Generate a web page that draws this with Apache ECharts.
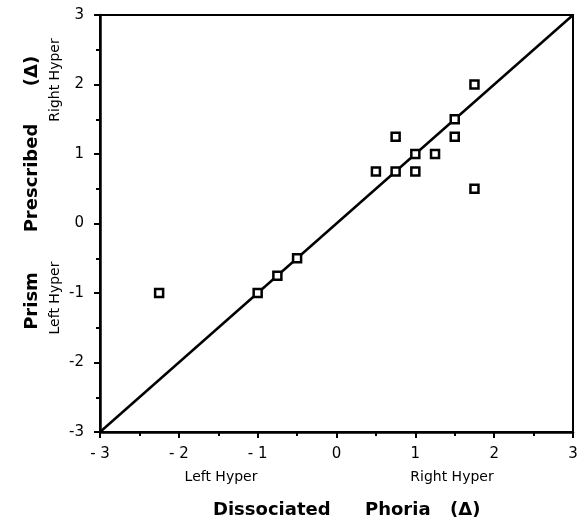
<!DOCTYPE html>
<html><head><meta charset="utf-8">
<script src="https://cdn.jsdelivr.net/npm/echarts@6/dist/echarts.min.js"></script>
<style>html,body{margin:0;padding:0;background:#fff}#c{width:578px;height:526px}</style>
</head><body><div id="c"></div>
<script>
const phoria = [-2.25, -1, -0.75, -0.5, 0.5, 0.75, 0.75, 1, 1, 1.25, 1.5, 1.5, 1.75, 1.75];
const prism  = [-1, -1, -0.75, -0.5, 0.75, 0.75, 1.25, 1, 0.75, 1, 1.5, 1.25, 2, 0.5];
const xTickLabels = {'-3':'- 3','-2':'- 2','-1':'- 1','0':'0','1':'1','2':'2','3':'3'};
const yTickLabels = {'-3':'-3','-2':'-2','-1':'-1','0':'0','1':'1','2':'2','3':'3'};
const identity = [[-3, -3], [3, 3]];

const chart = echarts.init(document.getElementById('c'));
const points = phoria.map((x, i) => [x, prism[i]]);
chart.setOption({
  animation: false,
  grid: {left: 100, right: 5, top: 15, bottom: 94, containLabel: false, outerBoundsMode: 'none',
         show: true, borderColor: '#000', borderWidth: 2},
  xAxis: {
    type: 'value', min: -3, max: 3, interval: 1,
    axisLine: {onZero: false, lineStyle: {color: '#000', width: 2.5}},
    axisTick: {length: 6, lineStyle: {color: '#000', width: 2}},
    minorTick: {show: true, splitNumber: 2, length: 4, lineStyle: {color: '#000', width: 2}},
    splitLine: {show: false},
    axisLabel: {show: true, margin: 15, color: '#000', fontSize: 15, fontFamily: 'DejaVu Sans',
      formatter: v => xTickLabels[String(v)]}
  },
  yAxis: {
    type: 'value', min: -3, max: 3, interval: 1,
    axisLine: {onZero: false, lineStyle: {color: '#000', width: 2.5}},
    axisTick: {length: 6, lineStyle: {color: '#000', width: 2}},
    minorTick: {show: true, splitNumber: 2, length: 4, lineStyle: {color: '#000', width: 2}},
    splitLine: {show: false},
    axisLabel: {show: true, margin: 16, color: '#000', fontSize: 15, fontFamily: 'DejaVu Sans',
      formatter: v => yTickLabels[String(v)]}
  },
  series: [
    {type: 'line', data: identity, symbol: 'none', lineStyle: {color: '#000', width: 2.5}, z: 2},
    {type: 'scatter', data: points, symbol: 'rect', symbolSize: 8,
     itemStyle: {color: '#fff', borderColor: '#000', borderWidth: 2.5, opacity: 1}, z: 3}
  ],
  graphic: [
    {type: 'text', x: 221, y: 477, style: {text: 'Left Hyper', font: '14px DejaVu Sans', fill: '#000', align: 'center', verticalAlign: 'middle'}},
    {type: 'text', x: 452, y: 477, style: {text: 'Right Hyper', font: '14px DejaVu Sans', fill: '#000', align: 'center', verticalAlign: 'middle'}},
    {type: 'text', x: 213, y: 510, style: {text: 'Dissociated', font: 'bold 18px DejaVu Sans', fill: '#000', align: 'left', verticalAlign: 'middle'}},
    {type: 'text', x: 365, y: 510, style: {text: 'Phoria', font: 'bold 18px DejaVu Sans', fill: '#000', align: 'left', verticalAlign: 'middle'}},
    {type: 'text', x: 450, y: 510, style: {text: '(\u0394)', font: 'bold 18px DejaVu Sans', fill: '#000', align: 'left', verticalAlign: 'middle'}},
    {type: 'text', x: 55, y: 80, rotation: Math.PI/2, style: {text: 'Right Hyper', font: '14px DejaVu Sans', fill: '#000', align: 'center', verticalAlign: 'middle'}},
    {type: 'text', x: 55, y: 298, rotation: Math.PI/2, style: {text: 'Left Hyper', font: '14px DejaVu Sans', fill: '#000', align: 'center', verticalAlign: 'middle'}},
    {type: 'text', x: 32, y: 301, rotation: Math.PI/2, style: {text: 'Prism', font: 'bold 18px DejaVu Sans', fill: '#000', align: 'center', verticalAlign: 'middle'}},
    {type: 'text', x: 32, y: 178, rotation: Math.PI/2, style: {text: 'Prescribed', font: 'bold 18px DejaVu Sans', fill: '#000', align: 'center', verticalAlign: 'middle'}},
    {type: 'text', x: 32, y: 71, rotation: Math.PI/2, style: {text: '(\u0394)', font: 'bold 18px DejaVu Sans', fill: '#000', align: 'center', verticalAlign: 'middle'}}
  ]
});
</script></body></html>
